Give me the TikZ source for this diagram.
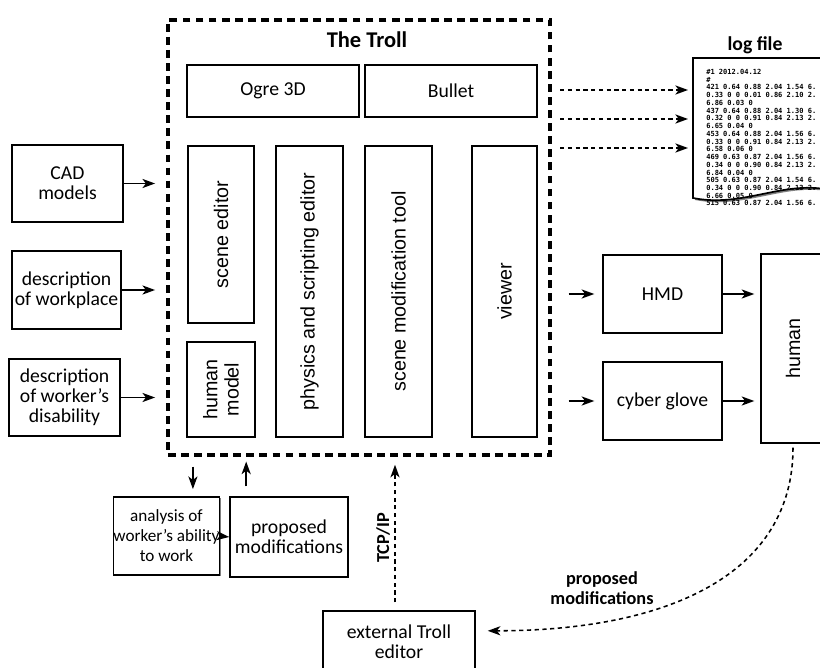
\documentclass[tikz,border=0pt]{standalone}
\usepackage{fontspec}
\setmainfont{Carlito}
\newfontfamily\rotfont{Liberation Sans}
\newfontfamily\logfont{DejaVu Sans Mono}
\usetikzlibrary{arrows.meta,positioning,shadows}
\tikzset{
box/.style={draw, line width=1pt, fill=white, align=center, inner sep=1pt,
  font=\fontsize{14}{14.2}\selectfont,
  drop shadow={shadow xshift=0.8pt, shadow yshift=-0.8pt, fill=black!50, opacity=1}},
vbox/.style={draw, line width=1.2pt, fill=white, align=center, inner sep=1pt,
  rotate=90, font=\rotfont\fontsize{14}{15}\selectfont},
troll/.style={draw, line width=2.4pt, dash pattern=on 5.5pt off 3.8pt},
arr/.style={-{Stealth[length=9pt, width=6.5pt, inset=2.5pt]}, line width=1.1pt},
darr/.style={arr, dash pattern=on 3pt off 2.5pt},
}
\begin{document}
\begin{tikzpicture}[x=0.025cm, y=-0.025cm]
\useasboundingbox (0,0) rectangle (820,668);

% the Troll
\node[troll, minimum width=9.55cm, minimum height=10.875cm] (troll) at (359,237.5) {};
\node[font=\bfseries\fontsize{16}{18}\selectfont] (title) at (367,40) {The Troll};
\node[box, minimum width=4.3cm, minimum height=1.3cm] (ogre) at (273,91) {Ogre 3D};
\node[box, minimum width=4.3cm, minimum height=1.3cm] (bullet) at (451,91) {Bullet};
\node[vbox, minimum width=4.425cm, minimum height=1.65cm] (sced) at (221,234.5) {scene editor};
\node[vbox, minimum width=2.375cm, minimum height=1.7cm] (hmod) at (221,389.5) {human\\model};
\node[vbox, minimum width=7.275cm, minimum height=1.675cm] (phys) at (309.5,291.5) {physics and scripting editor};
\node[vbox, minimum width=7.275cm, minimum height=1.675cm] (smod) at (398.5,291.5) {scene modification tool};
\node[vbox, minimum width=7.275cm, minimum height=1.625cm] (view) at (504.5,291.5) {viewer};

% inputs
\node[box, minimum width=2.775cm, minimum height=1.925cm] (cad) at (67.5,183.5) {CAD\\models};
\node[box, minimum width=2.725cm, minimum height=1.95cm] (work) at (66.5,290) {description\\of workplace};
\node[box, minimum width=2.775cm, minimum height=1.925cm] (dis) at (64.5,397.5) {description\\of worker's\\disability};

% outputs
\node[box, minimum width=2.975cm, minimum height=1.95cm] (hmd) at (662.5,294) {HMD};
\node[box, minimum width=2.975cm, minimum height=1.95cm] (glove) at (662.5,401) {cyber glove};
\node[vbox, line width=1pt, minimum width=4.725cm, minimum height=1.6cm] (human) at (793,348.5) {human};

% bottom
\node[box, inner sep=0pt, font=\fontsize{12.2}{14.2}\selectfont, minimum width=2.525cm, minimum height=1.95cm] (ana) at (166.5,536) {analysis of\\worker's ability\\to work};
\node[box, minimum width=2.95cm, minimum height=2cm] (prop) at (289,537) {proposed\\modifications};
\node[box, minimum width=3.8cm, minimum height=1.55cm] (ext) at (399,642) {external Troll\\editor};

% log file
\node[font=\bfseries\fontsize{14}{16}\selectfont] (logt) at (755,45) {log file};
\fill[black!50] (695,60) -- (832,60) -- (832,192) .. controls (785,182) and (745,210) .. (695,200) -- cycle;
\draw[line width=1.2pt, fill=white] (693,58) -- (830,58) -- (830,190) .. controls (783,180) and (743,208) .. (693,198) -- cycle;
\node[anchor=north west, inner sep=0pt, align=left,
  font=\logfont\bfseries\fontsize{5}{5.5}\selectfont] (logtxt) at (706,69)
{\#1 2012.04.12\\
\#\\
421 0.64 0.88 2.04 1.54 6.\\
0.33 0 0 0.01 0.86 2.10 2.\\
6.86 0.03 0\\
437 0.64 0.88 2.04 1.30 6.\\
0.32 0 0 0.91 0.84 2.13 2.\\
6.65 0.04 0\\
453 0.64 0.88 2.04 1.56 6.\\
0.33 0 0 0.91 0.84 2.13 2.\\
6.58 0.06 0\\
469 0.63 0.87 2.04 1.56 6.\\
0.34 0 0 0.90 0.84 2.13 2.\\
6.84 0.04 0\\
505 0.63 0.87 2.04 1.54 6.\\
0.34 0 0 0.90 0.84 2.13 2.\\
6.66 0.05 0\\
515 0.63 0.87 2.04 1.56 6.};
\coordinate (l1) at (688,90);
\coordinate (l2) at (688,119);
\coordinate (l3) at (688,148);
\draw[darr, shorten <=6pt] (l1 -| troll.east) -- (l1);
\draw[darr, shorten <=6pt] (l2 -| troll.east) -- (l2);
\draw[darr, shorten <=6pt] (l3 -| troll.east) -- (l3);

% connectors
\draw[arr, shorten >=0.28cm] (cad.east) -- (cad.east -| troll.west);
\draw[arr, shorten >=0.28cm] (work.east) -- (work.east -| troll.west);
\draw[arr, shorten >=0.28cm] (dis.east) -- (dis.east -| troll.west);
\draw[arr, shorten <=0.42cm, shorten >=0.2cm] (hmd.west -| troll.east) -- (hmd.west);
\draw[arr, shorten <=0.42cm, shorten >=0.2cm] (glove.west -| troll.east) -- (glove.west);
\draw[arr, shorten >=0.15cm] (hmd.east) -- (hmd.east -| human.north);
\draw[arr, shorten >=0.15cm] (glove.east) -- (glove.east -| human.north);
\draw[arr, shorten <=0.25cm, shorten >=0.18cm] ([xshift=0.66cm]ana.north |- troll.south) -- ([xshift=0.66cm]ana.north);
\draw[arr, shorten <=0.25cm, shorten >=0.12cm] ([xshift=-1.07cm]prop.north) -- ([xshift=-1.07cm]prop.north |- troll.south);
\draw[arr] (ana.east) -- (prop.west);
\draw[darr, shorten <=0.2cm, shorten >=0.2cm] ([xshift=-0.1cm]ext.north) -- ([xshift=-0.1cm]ext.north |- troll.south);
\node[rotate=90, font=\bfseries\fontsize{13}{15}\selectfont] (tcp) at (383,538) {TCP/IP};
\draw[darr, shorten <=0.1cm, shorten >=0.3cm] (human.west) to[out=-90, in=0, out looseness=0.9, in looseness=1.35] ([yshift=0.28cm]ext.east);
\node[align=center, font=\bfseries\fontsize{13}{14}\selectfont] (pmod) at (602,588) {proposed\\modifications};
\end{tikzpicture}
\end{document}
